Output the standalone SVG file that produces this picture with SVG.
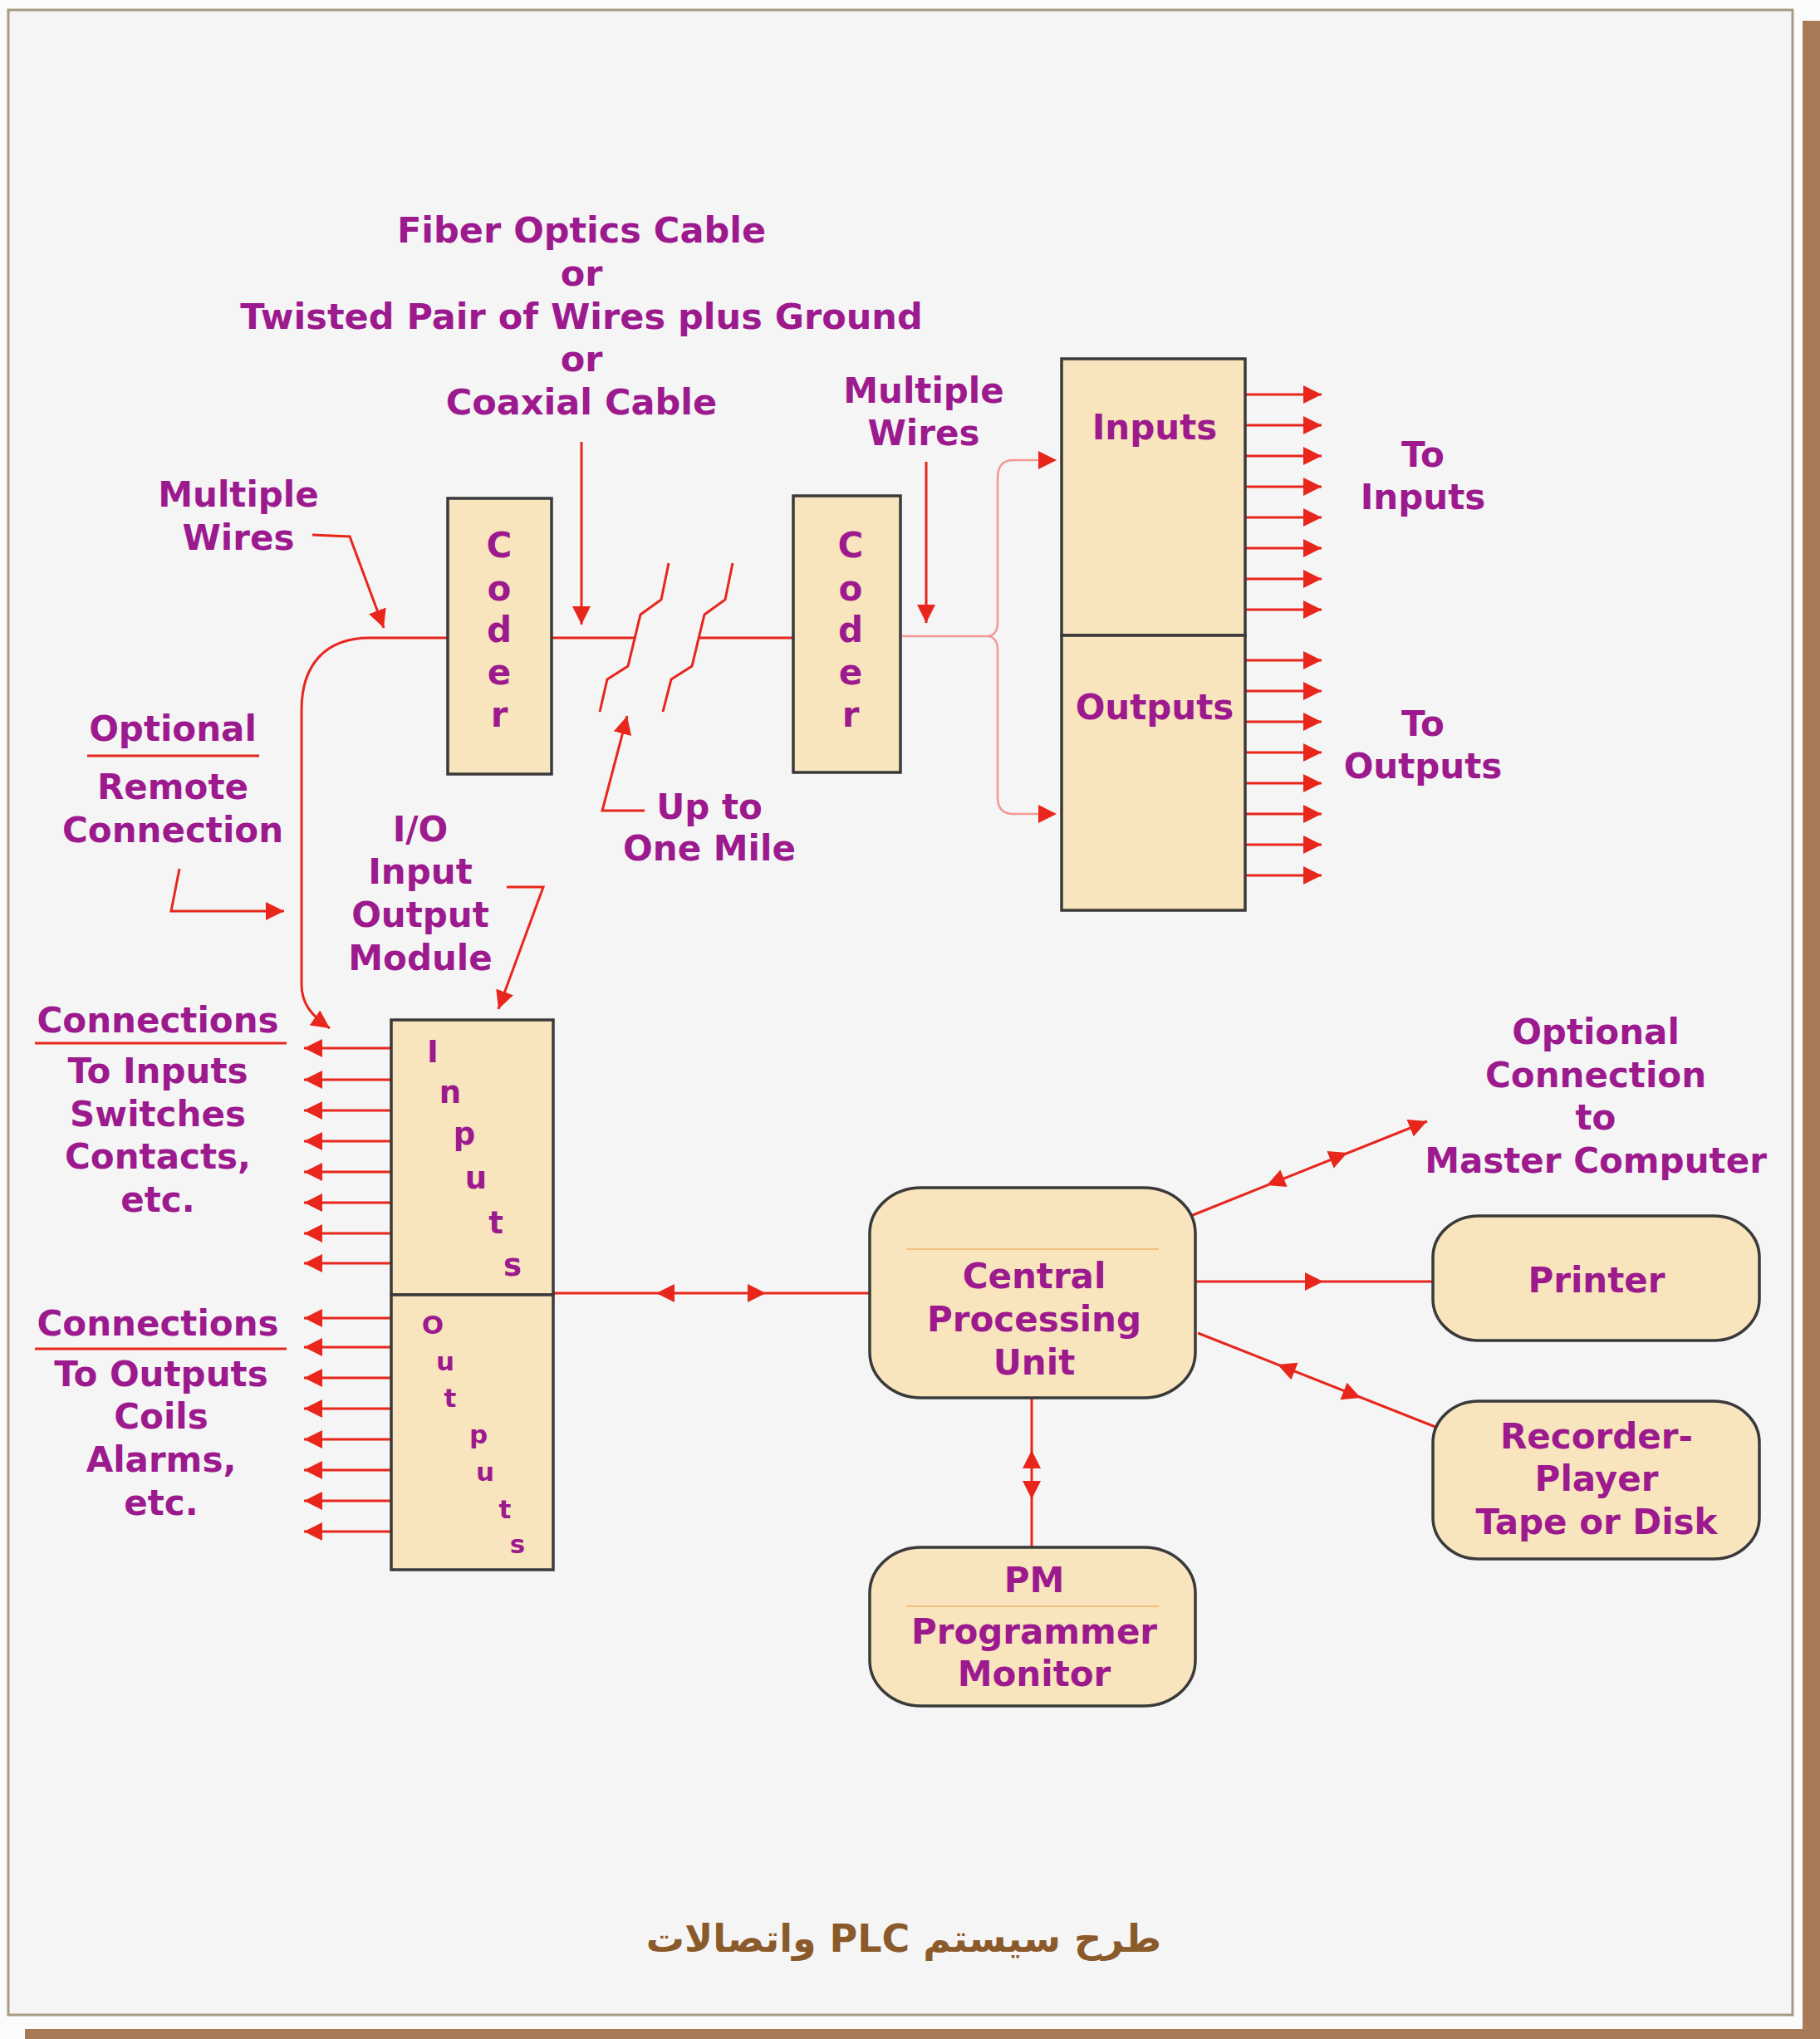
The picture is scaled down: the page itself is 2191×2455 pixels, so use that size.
<svg xmlns="http://www.w3.org/2000/svg" xmlns:xlink="http://www.w3.org/1999/xlink" width="2191" height="2455" viewBox="0 0 2191 2455">
<defs>
<style>
.t{font-family:"DejaVu Sans","Liberation Sans",sans-serif;font-weight:bold;font-size:42px;fill:#9c1a8e;text-anchor:middle}
.big{font-size:43px}
.s{font-size:37px}
.xs{font-size:31px}
.w{stroke:#e8261c;stroke-width:3;fill:none}
.lw{stroke:#f29a94;stroke-width:2.5;fill:none}
.box{fill:#f8e5bd;stroke:#3a3a3a;stroke-width:3.5}
.ul{stroke:#e8261c;stroke-width:3}
.in{stroke:#f0c080;stroke-width:2}
</style>
<marker id="a" viewBox="0 0 22 22" refX="22" refY="11" markerWidth="22" markerHeight="22" markerUnits="userSpaceOnUse" orient="auto"><path d="M0,0 L22,11 L0,22 Z" fill="#e8261c"/></marker>
<path id="ah" d="M0,0 L-22,-11 L-22,11 Z" fill="#e8261c"/>
</defs>
<rect x="0" y="0" width="2191" height="2455" fill="#fbfbfb"/>
<rect x="2170" y="25" width="21" height="2430" fill="#a87a56"/>
<rect x="30" y="2443" width="2161" height="12" fill="#a87a56"/>
<rect x="10" y="12" width="2148" height="2414" fill="#f5f5f5" stroke="#a89a86" stroke-width="3"/>

<g id="connectors">
<polyline class="w" points="376,644 421,646 462,756" marker-end="url(#a)"/>
<line class="w" x1="700" y1="532" x2="700" y2="752" marker-end="url(#a)"/>
<line class="w" x1="1115" y1="556" x2="1115" y2="750" marker-end="url(#a)"/>
<path class="w" d="M539,768 H445 C392,768 363,800 363,855 V1185 C363,1208 374,1222 397,1238" marker-end="url(#a)"/>
<line class="w" x1="664" y1="768" x2="764" y2="768"/>
<line class="w" x1="841" y1="768" x2="955" y2="768"/>
<polyline class="w" points="722,857 731,818 756,802 771,740 796,722 805,678"/>
<polyline class="w" points="798,857 808,818 833,802 848,740 873,722 882,678"/>
<polyline class="w" points="776,976 725,976 755,862" marker-end="url(#a)"/>
<path class="lw" d="M1086,766 H1189 C1196,766 1201,760 1201,750 V575 C1201,560 1208,554 1220,554 H1270"/>
<path class="lw" d="M1189,766 C1196,766 1201,772 1201,782 V960 C1201,974 1208,980 1220,980 H1270"/>
<use xlink:href="#ah" transform="translate(1272,554)"/>
<use xlink:href="#ah" transform="translate(1272,980)"/>
<g class="w" marker-end="url(#a)">
<line x1="1499" y1="475" x2="1591" y2="475"/>
<line x1="1499" y1="512" x2="1591" y2="512"/>
<line x1="1499" y1="549" x2="1591" y2="549"/>
<line x1="1499" y1="586" x2="1591" y2="586"/>
<line x1="1499" y1="623" x2="1591" y2="623"/>
<line x1="1499" y1="660" x2="1591" y2="660"/>
<line x1="1499" y1="697" x2="1591" y2="697"/>
<line x1="1499" y1="734" x2="1591" y2="734"/>
<line x1="1499" y1="795" x2="1591" y2="795"/>
<line x1="1499" y1="832" x2="1591" y2="832"/>
<line x1="1499" y1="869" x2="1591" y2="869"/>
<line x1="1499" y1="906" x2="1591" y2="906"/>
<line x1="1499" y1="943" x2="1591" y2="943"/>
<line x1="1499" y1="980" x2="1591" y2="980"/>
<line x1="1499" y1="1017" x2="1591" y2="1017"/>
<line x1="1499" y1="1054" x2="1591" y2="1054"/>
</g>
<polyline class="w" points="216,1046 206,1097 342,1097" marker-end="url(#a)"/>
<polyline class="w" points="610,1068 654,1068 600,1215" marker-end="url(#a)"/>
<g class="w" marker-end="url(#a)">
<line x1="471" y1="1262" x2="366" y2="1262"/>
<line x1="471" y1="1300" x2="366" y2="1300"/>
<line x1="471" y1="1337" x2="366" y2="1337"/>
<line x1="471" y1="1374" x2="366" y2="1374"/>
<line x1="471" y1="1411" x2="366" y2="1411"/>
<line x1="471" y1="1448" x2="366" y2="1448"/>
<line x1="471" y1="1485" x2="366" y2="1485"/>
<line x1="471" y1="1521" x2="366" y2="1521"/>
<line x1="471" y1="1587" x2="366" y2="1587"/>
<line x1="471" y1="1622" x2="366" y2="1622"/>
<line x1="471" y1="1659" x2="366" y2="1659"/>
<line x1="471" y1="1696" x2="366" y2="1696"/>
<line x1="471" y1="1733" x2="366" y2="1733"/>
<line x1="471" y1="1770" x2="366" y2="1770"/>
<line x1="471" y1="1807" x2="366" y2="1807"/>
<line x1="471" y1="1844" x2="366" y2="1844"/>
</g>
<line class="w" x1="666" y1="1557" x2="1047" y2="1557"/>
<use xlink:href="#ah" transform="translate(790,1557) rotate(180)"/>
<use xlink:href="#ah" transform="translate(922,1557)"/>
<line class="w" x1="1431" y1="1465" x2="1718" y2="1350" marker-end="url(#a)"/>
<use xlink:href="#ah" transform="translate(1525,1427) rotate(158.2)"/>
<use xlink:href="#ah" transform="translate(1622,1388) rotate(-21.8)"/>
<line class="w" x1="1439" y1="1543" x2="1725" y2="1543"/>
<use xlink:href="#ah" transform="translate(1593,1543)"/>
<line class="w" x1="1442" y1="1605" x2="1733" y2="1720"/>
<use xlink:href="#ah" transform="translate(1538,1643) rotate(201.6)"/>
<use xlink:href="#ah" transform="translate(1638,1683) rotate(21.6)"/>
<line class="w" x1="1242" y1="1683" x2="1242" y2="1863"/>
<use xlink:href="#ah" transform="translate(1242,1746) rotate(-90)"/>
<use xlink:href="#ah" transform="translate(1242,1805) rotate(90)"/>
<line class="ul" x1="105" y1="910" x2="312" y2="910"/>
<line class="ul" x1="42" y1="1256" x2="345" y2="1256"/>
<line class="ul" x1="42" y1="1624" x2="345" y2="1624"/>
</g>

<g id="labels">
<text class="t big" x="700" y="292">Fiber Optics Cable</text>
<text class="t big" x="700" y="344">or</text>
<text class="t big" x="700" y="396">Twisted Pair of Wires plus Ground</text>
<text class="t big" x="700" y="447">or</text>
<text class="t big" x="700" y="499">Coaxial Cable</text>
<text class="t" x="1112" y="485">Multiple</text>
<text class="t" x="1112" y="536">Wires</text>
<text class="t" x="287" y="610">Multiple</text>
<text class="t" x="287" y="662">Wires</text>
<text class="t" x="1713" y="562">To</text>
<text class="t" x="1713" y="613">Inputs</text>
<text class="t" x="1713" y="886">To</text>
<text class="t" x="1713" y="937">Outputs</text>
<text class="t" x="208" y="892">Optional</text>
<text class="t" x="208" y="962">Remote</text>
<text class="t" x="208" y="1014">Connection</text>
<text class="t" x="854" y="986">Up to</text>
<text class="t" x="854" y="1036">One Mile</text>
<text class="t" x="506" y="1013">I/O</text>
<text class="t" x="506" y="1064">Input</text>
<text class="t" x="506" y="1116">Output</text>
<text class="t" x="506" y="1168">Module</text>
<text class="t" x="190" y="1243">Connections</text>
<text class="t" x="190" y="1304">To Inputs</text>
<text class="t" x="190" y="1356">Switches</text>
<text class="t" x="190" y="1407">Contacts,</text>
<text class="t" x="190" y="1459">etc.</text>
<text class="t" x="190" y="1608">Connections</text>
<text class="t" x="194" y="1669">To Outputs</text>
<text class="t" x="194" y="1720">Coils</text>
<text class="t" x="194" y="1772">Alarms,</text>
<text class="t" x="194" y="1824">etc.</text>
<text class="t" x="1921" y="1257">Optional</text>
<text class="t" x="1921" y="1309">Connection</text>
<text class="t" x="1921" y="1360">to</text>
<text class="t" x="1921" y="1412">Master Computer</text>
</g>

<g id="coder1">
<rect class="box" x="539" y="600" width="125" height="332"/>
<text class="t" x="601" y="671">C</text>
<text class="t" x="601" y="723">o</text>
<text class="t" x="601" y="773">d</text>
<text class="t" x="601" y="824">e</text>
<text class="t" x="601" y="875">r</text>
</g>
<g id="coder2">
<rect class="box" x="955" y="597" width="129" height="333"/>
<text class="t" x="1024" y="671">C</text>
<text class="t" x="1024" y="723">o</text>
<text class="t" x="1024" y="773">d</text>
<text class="t" x="1024" y="824">e</text>
<text class="t" x="1024" y="875">r</text>
</g>
<g id="remote-io">
<rect class="box" x="1278" y="432" width="221" height="333"/>
<rect class="box" x="1278" y="765" width="221" height="331"/>
<text class="t" x="1390" y="529">Inputs</text>
<text class="t" x="1390" y="866">Outputs</text>
</g>
<g id="io-module">
<rect class="box" x="471" y="1228" width="195" height="331"/>
<rect class="box" x="471" y="1559" width="195" height="331"/>
<text class="t s" x="521" y="1279">I</text>
<text class="t s" x="542" y="1328">n</text>
<text class="t s" x="559" y="1378">p</text>
<text class="t s" x="573" y="1431">u</text>
<text class="t s" x="597" y="1485">t</text>
<text class="t s" x="617" y="1536">s</text>
<text class="t xs" x="521" y="1606">O</text>
<text class="t xs" x="536" y="1650">u</text>
<text class="t xs" x="542" y="1694">t</text>
<text class="t xs" x="576" y="1738">p</text>
<text class="t xs" x="584" y="1783">u</text>
<text class="t xs" x="608" y="1828">t</text>
<text class="t xs" x="623" y="1870">s</text>
</g>
<g id="cpu">
<rect class="box" x="1047" y="1430" width="392" height="253" rx="62" ry="55"/>
<line class="in" x1="1091" y1="1504" x2="1395" y2="1504"/>
<text class="t" x="1245" y="1551">Central</text>
<text class="t" x="1245" y="1603">Processing</text>
<text class="t" x="1245" y="1655">Unit</text>
</g>
<g id="printer">
<rect class="box" x="1725" y="1464" width="393" height="150" rx="55" ry="50"/>
<text class="t" x="1922" y="1556">Printer</text>
</g>
<g id="recorder">
<rect class="box" x="1725" y="1687" width="393" height="190" rx="55" ry="50"/>
<text class="t" x="1922" y="1744">Recorder-</text>
<text class="t" x="1922" y="1795">Player</text>
<text class="t" x="1922" y="1847">Tape or Disk</text>
</g>
<g id="pm">
<rect class="box" x="1047" y="1863" width="392" height="191" rx="62" ry="55"/>
<line class="in" x1="1091" y1="1934" x2="1395" y2="1934"/>
<text class="t" x="1245" y="1917">PM</text>
<text class="t" x="1245" y="1979">Programmer</text>
<text class="t" x="1245" y="2030">Monitor</text>
</g>
<g id="title">
<text x="1088" y="2350" direction="rtl" text-anchor="middle" font-family="DejaVu Sans, sans-serif" font-weight="bold" font-size="46" fill="#8b5a2b">طرح سیستم PLC واتصالات</text>
</g>
</svg>
